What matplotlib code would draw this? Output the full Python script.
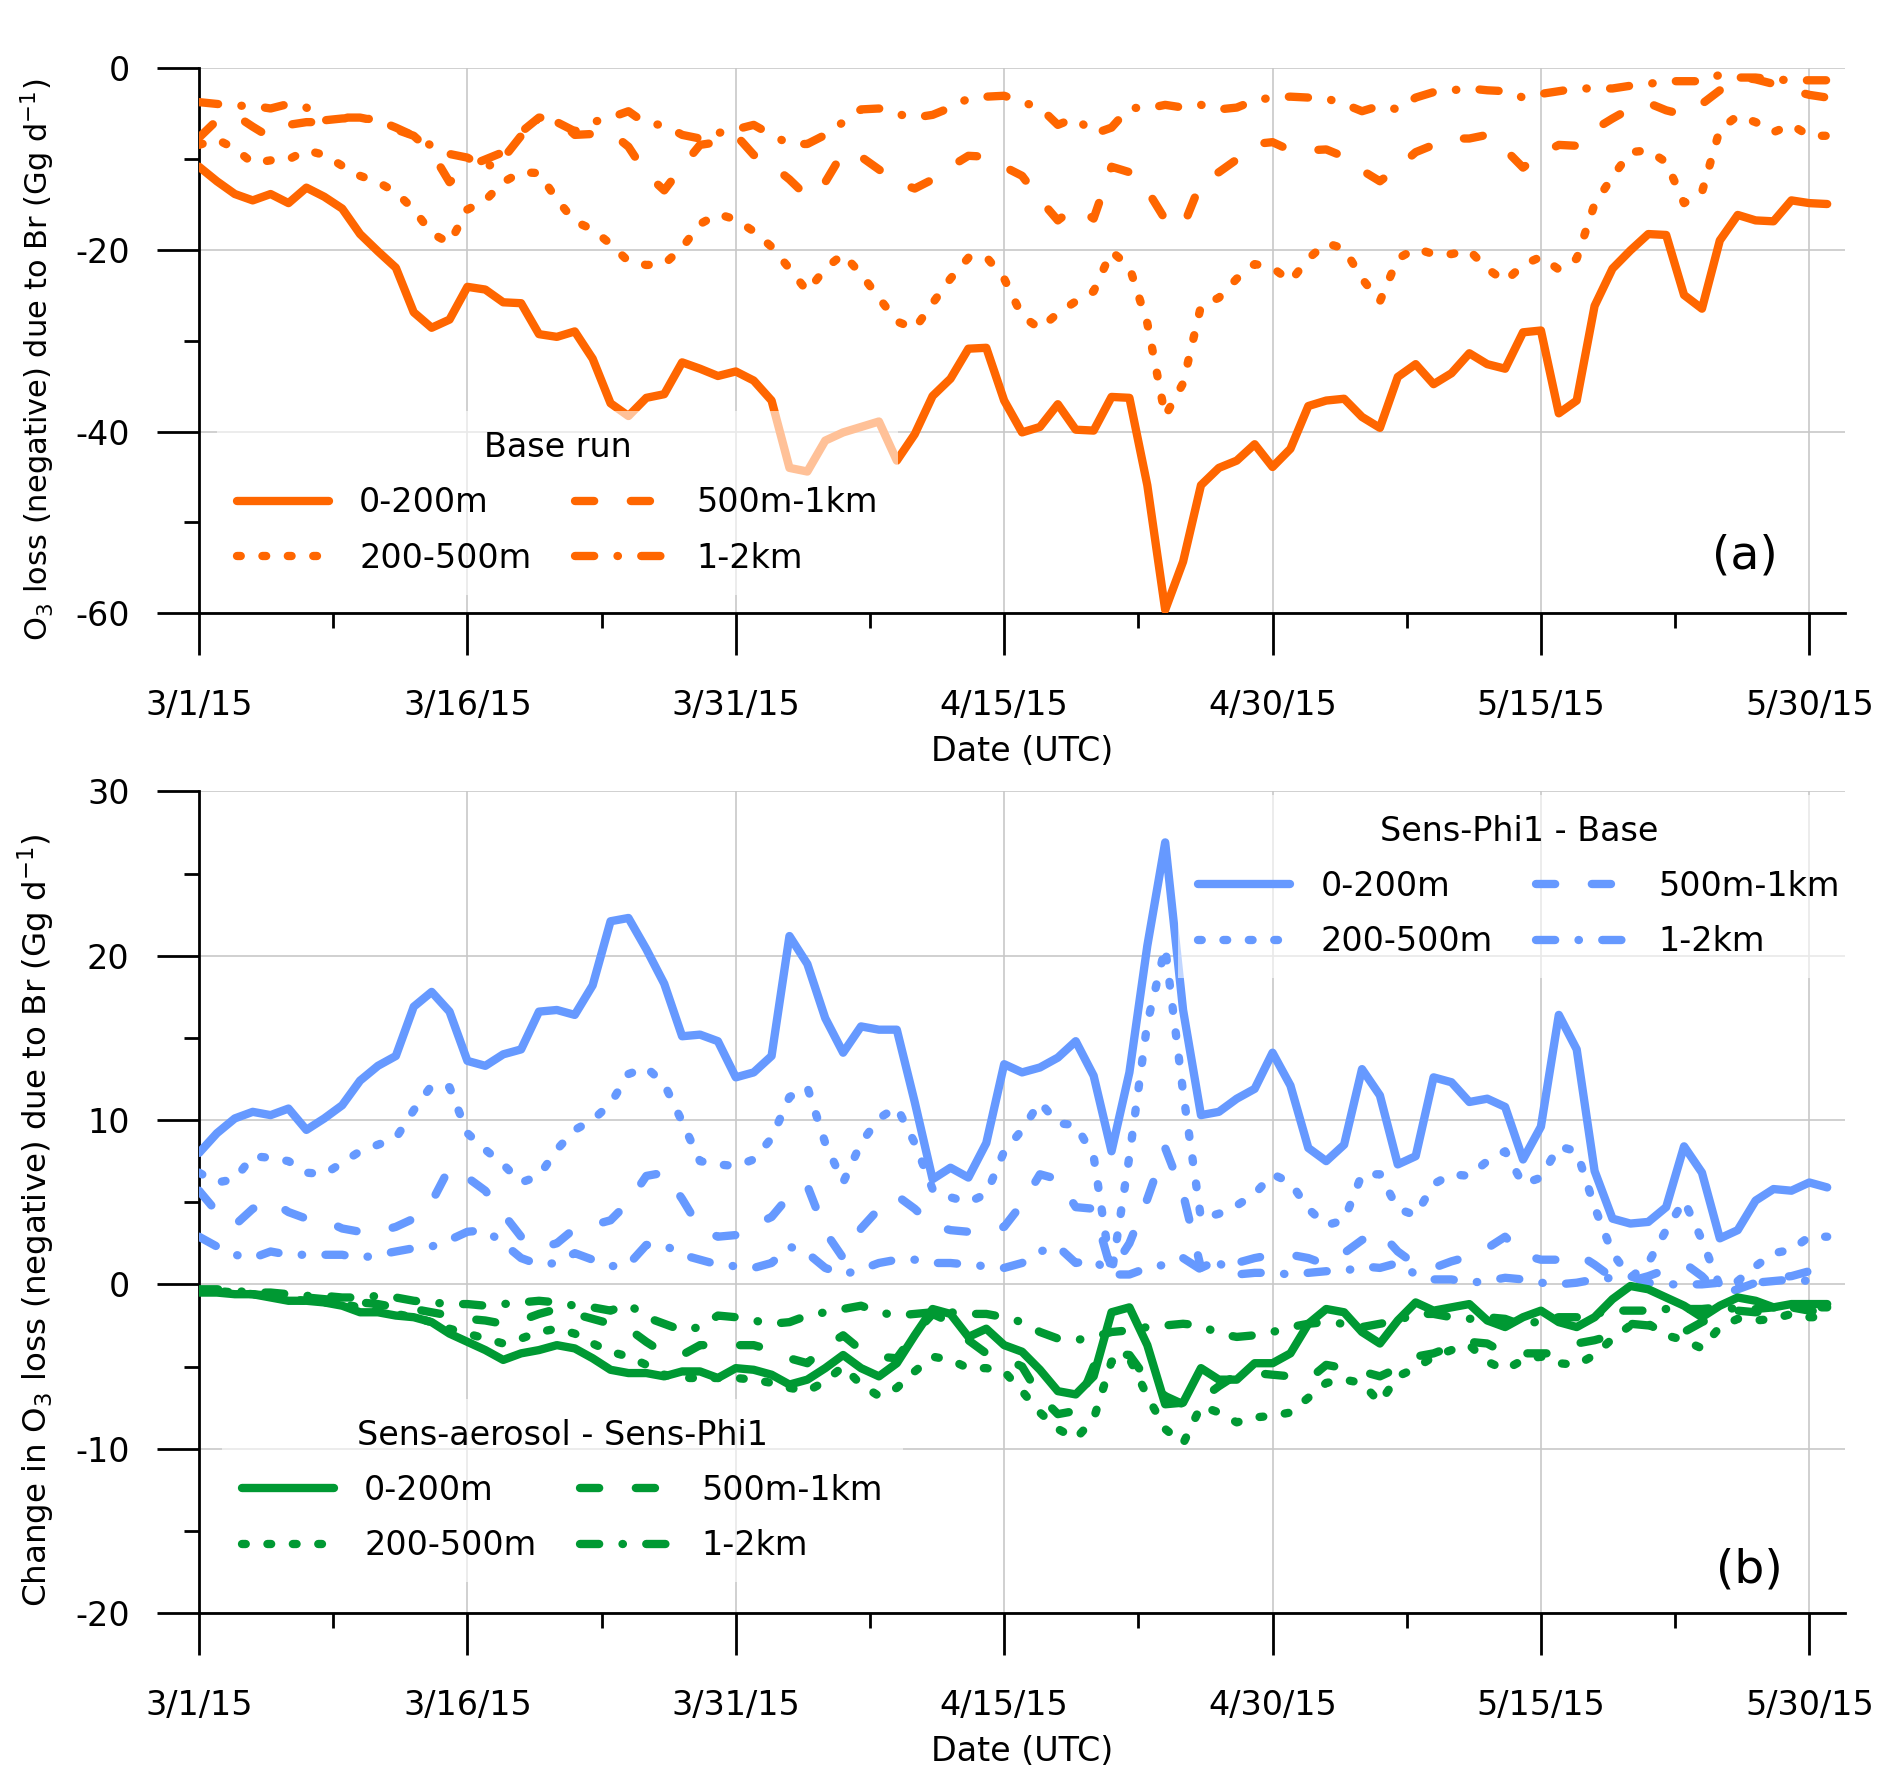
import pandas as pd
import matplotlib
matplotlib.use("Agg")
import matplotlib.pyplot as plt
import matplotlib.dates as mdates
from matplotlib.ticker import FixedLocator

plt.rcParams["axes.unicode_minus"] = False
plt.rcParams["font.family"] = ["DejaVu Sans"]

# ---- data (daily, 3/1/15 .. 5/31/15) ----
dates = pd.date_range("2015-03-01", periods=92, freq="D")
tick_dates = pd.date_range("2015-03-01", periods=7, freq="15D")
tick_labels = ["3/1/15", "3/16/15", "3/31/15", "4/15/15", "4/30/15", "5/15/15", "5/30/15"]
layer_labels = ["0-200m", "200-500m", "500m-1km", "1-2km"]

# (a) Base run, O3 loss due to Br
base_0_200 = [-10.9, -12.5, -13.9, -14.6, -13.9, -14.9, -13.2, -14.2, -15.5, -18.3,
              -20.2, -22.0, -26.9, -28.6, -27.7, -24.1, -24.4, -25.8, -25.9, -29.3,
              -29.6, -29.0, -32.0, -36.9, -38.3, -36.3, -35.9, -32.4, -33.1, -33.9,
              -33.4, -34.4, -36.6, -44.0, -44.4, -41.0, -40.1, -39.5, -38.9, -43.2,
              -40.3, -36.1, -34.2, -30.9, -30.8, -36.6, -40.1, -39.5, -37.0, -39.8,
              -39.9, -36.2, -36.3, -45.9, -59.6, -54.3, -45.9, -44.0, -43.2, -41.4,
              -43.9, -41.9, -37.2, -36.6, -36.4, -38.4, -39.6, -34.0, -32.6, -34.8,
              -33.6, -31.4, -32.6, -33.1, -29.1, -28.9, -38.0, -36.6, -26.2, -22.1,
              -20.1, -18.3, -18.4, -25.0, -26.5, -19.0, -16.2, -16.8, -16.9, -14.6,
              -14.9, -15.0]
base_200_500 = [-8.5, -7.9, -8.9, -10.5, -10.2, -10.1, -9.1, -9.6, -10.8, -11.9,
                -12.6, -13.7, -15.6, -18.2, -19.3, -15.6, -14.6, -12.6, -11.5, -11.6,
                -14.5, -16.9, -17.8, -19.4, -21.3, -21.7, -21.6, -19.8, -17.2, -16.1,
                -16.7, -18.0, -19.7, -22.1, -24.6, -22.1, -20.5, -22.7, -25.3, -27.9,
                -28.7, -25.9, -23.2, -20.9, -20.8, -23.2, -27.3, -28.7, -27.0, -25.7,
                -24.6, -20.2, -21.9, -28.1, -38.3, -34.7, -26.2, -25.3, -23.2, -21.6,
                -22.0, -23.5, -21.0, -19.3, -19.9, -23.2, -25.7, -21.0, -19.9, -20.5,
                -20.5, -20.1, -22.1, -23.5, -21.7, -20.8, -22.2, -21.0, -15.0, -12.0,
                -9.3, -9.1, -10.4, -14.9, -13.7, -6.8, -5.3, -6.0, -7.1, -6.3,
                -7.5, -7.5]
base_500_1k = [-7.7, -5.8, -5.2, -6.5, -7.7, -6.3, -6.0, -6.0, -5.5, -5.5,
               -5.9, -6.8, -7.5, -9.3, -12.6, -10.9, -10.1, -9.3, -7.1, -5.5,
               -5.6, -7.4, -7.3, -7.1, -8.7, -11.7, -13.5, -10.9, -8.5, -8.2,
               -7.4, -9.6, -10.7, -12.3, -14.2, -12.6, -9.3, -9.8, -11.2, -12.6,
               -13.3, -12.3, -10.9, -9.7, -9.8, -10.9, -11.9, -14.5, -16.8, -15.3,
               -16.6, -10.9, -11.5, -13.5, -16.7, -17.5, -12.6, -11.5, -10.1, -8.4,
               -8.2, -9.1, -9.1, -9.0, -9.8, -11.3, -12.5, -11.0, -9.3, -8.5,
               -7.8, -7.8, -7.4, -9.0, -11.0, -9.5, -8.5, -8.6, -6.8, -5.6,
               -4.5, -3.9, -4.7, -5.2, -4.0, -2.5, -1.0, -1.3, -1.8, -2.5,
               -3.0, -3.3]
base_1_2k = [-3.8, -4.0, -4.2, -4.2, -4.5, -4.0, -4.4, -5.8, -5.6, -5.5,
             -5.8, -6.6, -7.5, -8.6, -9.5, -9.9, -11.0, -10.0, -7.5, -5.5,
             -6.0, -7.0, -6.0, -5.5, -4.8, -6.2, -6.3, -7.4, -7.8, -7.2,
             -6.8, -6.3, -7.4, -8.4, -8.4, -7.4, -6.0, -4.6, -4.5, -5.1,
             -5.5, -5.2, -4.4, -3.4, -3.2, -3.1, -3.8, -4.4, -6.3, -5.5,
             -7.3, -6.6, -4.4, -4.5, -4.1, -4.4, -4.1, -4.6, -4.4, -3.6,
             -3.3, -3.2, -3.3, -3.4, -4.0, -4.8, -4.2, -4.6, -3.3, -2.7,
             -2.5, -2.3, -2.5, -2.6, -3.3, -2.9, -2.6, -2.3, -2.3, -2.3,
             -2.0, -1.8, -1.5, -1.5, -1.5, -0.8, -1.1, -1.1, -1.3, -1.4,
             -1.4, -1.4]

# (b) Sens-Phi1 - Base
phi_0_200 = [8.0, 9.2, 10.1, 10.5, 10.3, 10.7, 9.4, 10.1, 10.9, 12.4,
             13.3, 13.9, 16.9, 17.8, 16.6, 13.6, 13.3, 14.0, 14.3, 16.6,
             16.7, 16.4, 18.2, 22.1, 22.3, 20.4, 18.3, 15.1, 15.2, 14.8,
             12.6, 12.9, 13.9, 21.2, 19.5, 16.2, 14.1, 15.7, 15.5, 15.5,
             11.1, 6.4, 7.1, 6.5, 8.6, 13.4, 12.9, 13.2, 13.8, 14.8,
             12.7, 8.1, 12.9, 20.6, 26.9, 16.7, 10.3, 10.5, 11.3, 11.9,
             14.1, 12.1, 8.3, 7.5, 8.5, 13.1, 11.5, 7.3, 7.8, 12.6,
             12.3, 11.1, 11.3, 10.8, 7.6, 9.6, 16.4, 14.3, 6.9, 4.0,
             3.7, 3.8, 4.7, 8.4, 6.8, 2.8, 3.3, 5.1, 5.8, 5.7,
             6.2, 5.9]
phi_200_500 = [6.8, 6.2, 6.4, 7.8, 7.7, 7.5, 6.8, 6.7, 7.4, 8.1,
               8.5, 8.9, 10.6, 12.1, 12.0, 9.2, 8.2, 7.3, 6.2, 6.6,
               8.2, 9.4, 10.0, 11.0, 12.8, 13.2, 12.2, 9.9, 7.5, 7.3,
               7.2, 7.6, 8.9, 11.4, 12.0, 8.6, 6.2, 8.6, 10.1, 10.8,
               8.6, 5.8, 5.3, 5.0, 5.5, 8.1, 9.4, 11.1, 9.8, 9.7,
               7.8, 0.6, 7.8, 15.9, 20.5, 11.7, 4.0, 4.3, 4.8, 5.5,
               6.7, 6.2, 4.6, 3.6, 3.9, 6.7, 6.7, 4.6, 4.2, 6.1,
               6.7, 6.6, 7.5, 8.1, 6.1, 6.5, 8.4, 8.1, 4.7, 1.9,
               0.4, 1.3, 3.3, 5.1, 2.7, -0.1, 0.2, 1.1, 1.9, 2.1,
               2.9, 2.9]
phi_500_1k = [5.7, 4.4, 3.6, 4.6, 5.1, 4.4, 4.0, 3.9, 3.4, 3.2,
              3.2, 3.5, 4.0, 5.0, 7.1, 6.5, 5.7, 4.3, 2.9, 2.2,
              2.5, 3.4, 3.6, 3.9, 5.0, 6.6, 6.8, 5.2, 3.4, 2.9,
              3.0, 3.6, 4.1, 5.4, 6.0, 3.2, 1.6, 3.4, 4.6, 5.4,
              4.6, 3.6, 3.3, 3.2, 3.3, 3.5, 4.9, 6.7, 6.4, 4.7,
              4.6, 0.8, 2.5, 5.2, 8.3, 5.5, 1.0, 1.5, 1.3, 1.6,
              1.8, 1.8, 1.6, 1.2, 1.9, 2.7, 3.2, 2.0, 1.2, 1.0,
              1.4, 1.7, 2.2, 2.9, 1.8, 1.5, 1.5, 1.9, 1.2, 0.4,
              0.2, 0.5, 0.9, 1.3, 0.5, -0.6, -0.3, 0.1, 0.4, 0.5,
              0.8, 0.8]
phi_1_2k = [2.9, 2.3, 1.8, 1.6, 2.0, 1.8, 1.8, 1.8, 1.8, 1.6,
            1.8, 2.0, 2.2, 2.3, 2.7, 3.2, 3.3, 2.5, 1.6, 1.2,
            1.3, 1.9, 1.5, 1.1, 1.2, 2.4, 2.4, 1.8, 1.5, 1.2,
            1.1, 1.0, 1.3, 2.3, 1.9, 1.0, 0.6, 0.9, 1.3, 1.5,
            1.5, 1.3, 1.3, 1.2, 1.1, 1.0, 1.3, 2.0, 2.3, 1.3,
            1.5, 0.6, 0.6, 1.0, 1.2, 1.6, 0.9, 1.3, 0.6, 0.7,
            0.7, 0.6, 0.7, 0.8, 0.8, 1.1, 1.0, 1.3, 0.6, 0.3,
            0.3, 0.1, 0.2, 0.4, 0.3, 0.1, 0.0, 0.1, 0.3, 0.4,
            0.5, 0.1, 0.0, 0.0, 0.0, 0.1, 0.0, 0.1, 0.2, 0.3,
            0.2, 0.2]

# (b) Sens-aerosol - Sens-Phi1
aer_0_200 = [-0.5, -0.5, -0.6, -0.6, -0.8, -1.0, -1.0, -1.1, -1.3, -1.7,
             -1.7, -1.9, -2.0, -2.3, -3.0, -3.5, -4.0, -4.6, -4.2, -4.0,
             -3.7, -3.9, -4.5, -5.2, -5.4, -5.4, -5.6, -5.3, -5.3, -5.7,
             -5.1, -5.2, -5.5, -6.1, -5.8, -5.1, -4.3, -5.1, -5.6, -4.8,
             -3.1, -1.5, -1.8, -3.2, -2.7, -3.7, -4.1, -5.2, -6.5, -6.7,
             -5.6, -1.7, -1.4, -3.7, -7.3, -7.2, -5.1, -5.8, -5.8, -4.8,
             -4.8, -4.2, -2.4, -1.5, -1.7, -2.9, -3.6, -2.2, -1.1, -1.6,
             -1.4, -1.2, -2.2, -2.6, -2.0, -1.6, -2.3, -2.6, -2.0, -0.9,
             -0.1, -0.3, -0.8, -1.3, -2.0, -1.3, -0.8, -1.0, -1.4, -1.2,
             -1.2, -1.2]
aer_200_500 = [-0.4, -0.4, -0.5, -0.6, -0.7, -0.9, -1.0, -1.1, -1.2, -1.4,
               -1.6, -1.8, -2.0, -2.3, -2.7, -3.0, -3.3, -3.6, -3.3, -2.9,
               -2.7, -3.0, -3.6, -4.1, -4.4, -4.9, -5.5, -5.7, -5.7, -5.7,
               -5.7, -5.8, -6.0, -6.3, -6.5, -5.9, -5.0, -6.1, -6.8, -6.3,
               -5.3, -4.4, -4.6, -5.1, -5.1, -5.3, -6.5, -7.8, -8.8, -9.4,
               -8.2, -4.7, -4.5, -6.8, -8.8, -9.7, -7.4, -7.8, -8.4, -8.1,
               -8.0, -7.8, -6.9, -6.0, -5.8, -6.0, -7.2, -5.6, -5.1, -4.4,
               -4.0, -3.7, -4.7, -5.2, -4.6, -4.4, -4.8, -4.9, -4.3, -3.3,
               -2.5, -2.4, -3.1, -3.4, -3.9, -2.6, -2.1, -2.2, -2.1, -1.8,
               -2.0, -2.0]
aer_500_1k = [-0.4, -0.4, -0.5, -0.6, -0.7, -0.8, -0.8, -0.9, -1.0, -1.1,
              -1.2, -1.4, -1.5, -1.7, -1.9, -2.1, -2.2, -2.4, -2.2, -1.8,
              -1.5, -1.8, -2.1, -2.4, -2.7, -3.5, -4.2, -4.3, -3.7, -3.7,
              -3.7, -3.7, -4.0, -4.5, -4.8, -3.8, -3.1, -4.0, -4.4, -4.5,
              -3.0, -1.8, -2.3, -3.4, -4.2, -4.5, -5.0, -6.8, -7.9, -7.7,
              -5.0, -4.2, -4.3, -5.8, -6.8, -7.3, -7.0, -6.2, -5.5, -5.4,
              -5.5, -5.6, -5.8, -4.9, -5.1, -5.3, -5.6, -5.1, -4.4, -4.2,
              -3.8, -3.5, -3.6, -4.2, -4.2, -4.2, -4.2, -3.6, -3.4, -3.1,
              -2.4, -2.5, -2.7, -2.9, -2.3, -1.8, -1.6, -1.7, -1.5, -1.4,
              -1.6, -1.7]
aer_1_2k = [-0.3, -0.3, -0.4, -0.5, -0.5, -0.6, -0.7, -0.7, -0.8, -0.8,
            -0.7, -0.8, -1.0, -1.1, -1.2, -1.2, -1.3, -1.2, -1.1, -1.0,
            -1.1, -1.3, -1.4, -1.6, -1.2, -2.0, -2.4, -2.8, -2.6, -1.9,
            -2.0, -2.2, -2.4, -2.3, -1.9, -1.7, -1.5, -1.3, -1.7, -1.9,
            -1.8, -1.7, -1.7, -1.8, -1.8, -2.0, -2.3, -2.9, -3.3, -3.4,
            -3.2, -2.9, -2.8, -2.6, -2.5, -2.4, -2.5, -3.0, -3.2, -3.1,
            -2.9, -2.6, -2.4, -2.3, -2.4, -2.6, -2.4, -2.2, -1.8, -1.8,
            -2.0, -2.1, -2.0, -2.1, -2.5, -2.2, -2.0, -2.0, -1.8, -1.6,
            -1.6, -1.6, -1.5, -1.5, -1.5, -1.4, -1.5, -1.5, -1.4, -1.3,
            -1.4, -1.4]

ORANGE = "#FF6600"
BLUE = "#6699FF"
GREEN = "#009933"
styles = ["-", (0, (0.45, 2.6)), (0, (2.3, 4.4)), (0, (2.3, 2.8, 0.05, 2.8))]
LW = 6


def draw_group(ax, series, color):
    lines = []
    for vals, ls in zip(series, styles):
        ln, = ax.plot(dates, vals, color=color, lw=LW, linestyle=ls,
                      dash_capstyle="round", solid_capstyle="round", zorder=3)
        lines.append(ln)
    return lines


def add_legend(ax, lines, title, anchor):
    leg = ax.legend(lines, layer_labels, title=title, ncol=2, loc="upper left",
                    bbox_to_anchor=anchor, borderaxespad=0, fontsize=24,
                    title_fontsize=24, frameon=True, framealpha=0.6,
                    facecolor="white", edgecolor="none", fancybox=False,
                    handlelength=2.76, handletextpad=0.9, columnspacing=1.3,
                    labelspacing=0.67, borderpad=0.6)
    return leg


def style_axis(ax, ylim, ymajor, yminor):
    x0 = mdates.date2num(dates[0])
    ax.set_xlim(x0, x0 + 92)
    ax.set_ylim(*ylim)
    ax.spines[["top", "right"]].set_visible(False)
    for s in ["left", "bottom"]:
        ax.spines[s].set_linewidth(2)
    major = mdates.date2num(tick_dates)
    ax.xaxis.set_major_locator(FixedLocator(major))
    ax.xaxis.set_minor_locator(FixedLocator(major[:-1] + 7.5))
    ax.set_xticklabels(tick_labels)
    ax.set_yticks(ymajor)
    ax.set_yticklabels([str(v) for v in ymajor])
    ax.yaxis.set_minor_locator(FixedLocator(yminor))
    ax.grid(True, which="major", color="#c8c8c8", lw=1.2)
    ax.set_axisbelow(True)
    ax.tick_params(which="major", direction="out", length=30, width=2,
                   labelsize=24)
    ax.tick_params(axis="x", which="major", pad=24.5)
    ax.tick_params(axis="y", which="major", pad=20)
    ax.tick_params(axis="x", which="minor", direction="out", length=11, width=2)
    ax.tick_params(axis="y", which="minor", direction="out", length=11, width=2)
    ax.set_xlabel("Date (UTC)", fontsize=24, labelpad=9.5)


fig = plt.figure(figsize=(18.92, 17.87), dpi=100)

# panel (a)
ax1 = fig.add_axes([0.1052, 0.6567, 0.8700, 0.3055])
lines_a = draw_group(ax1, [base_0_200, base_200_500, base_500_1k, base_1_2k], ORANGE)
style_axis(ax1, (-60, 0), [-60, -40, -20, 0], [-50, -30, -10])
ax1.set_ylabel(r"O$_3$ loss (negative) due to Br (Gg d$^{-1}$)", fontsize=22)
ax1.yaxis.set_label_coords(-0.086, 0.464)
add_legend(ax1, lines_a, "Base run", (0.011, 0.371))
ax1.text(0.939, 0.105, "(a)", transform=ax1.transAxes, fontsize=34,
         ha="center", va="center")

# panel (b)
ax2 = fig.add_axes([0.1052, 0.0974, 0.8700, 0.4597])
lines_b1 = draw_group(ax2, [phi_0_200, phi_200_500, phi_500_1k, phi_1_2k], BLUE)
lines_b2 = draw_group(ax2, [aer_0_200, aer_200_500, aer_500_1k, aer_1_2k], GREEN)
style_axis(ax2, (-20, 30), [-20, -10, 0, 10, 20, 30], [-15, -5, 5, 15, 25])
ax2.set_ylabel(r"Change in O$_3$ loss (negative) due to Br (Gg d$^{-1}$)",
               fontsize=23.4)
ax2.yaxis.set_label_coords(-0.086, 0.478)
leg1 = add_legend(ax2, lines_b1, "Sens-Phi1 - Base", (0.595, 0.996))
ax2.add_artist(leg1)
add_legend(ax2, lines_b2, "Sens-aerosol - Sens-Phi1", (0.014, 0.261))
ax2.text(0.942, 0.052, "(b)", transform=ax2.transAxes, fontsize=34,
         ha="center", va="center")

fig.savefig("out.png", dpi=100)
